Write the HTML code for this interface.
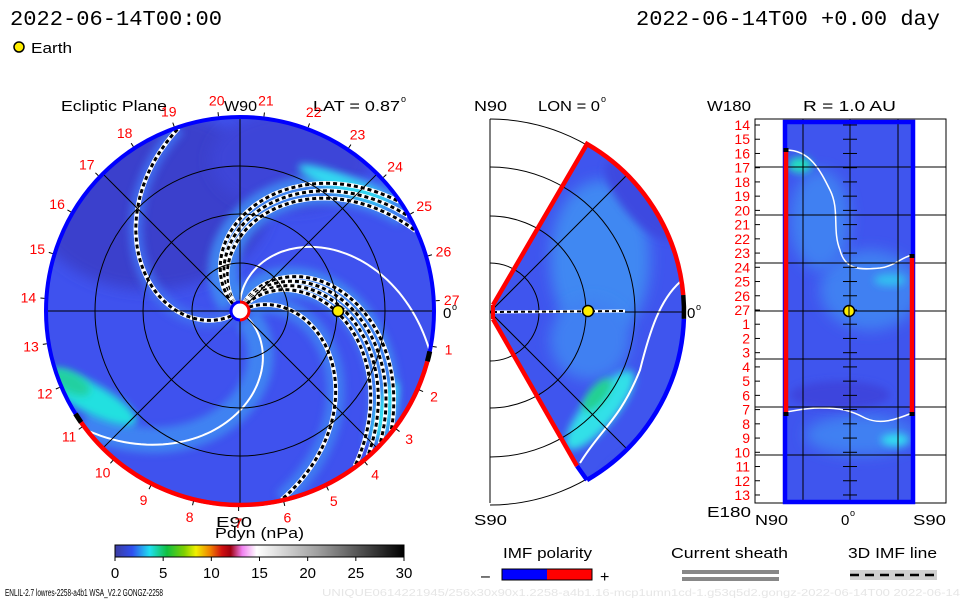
<!DOCTYPE html>
<html><head><meta charset="utf-8"><style>
html,body{margin:0;padding:0;background:#fff;}
svg{display:block;font-family:"Liberation Sans",sans-serif;}
</style></head><body>
<svg id="s" width="960" height="600" viewBox="0 0 960 600" xmlns="http://www.w3.org/2000/svg">
<defs>
<clipPath id="cMain"><circle cx="240" cy="311" r="194"/></clipPath>
<clipPath id="cWedge"><path d="M490,312 L587,144 A194,194 0 0 1 587,480 Z"/></clipPath>
<clipPath id="cRect"><rect x="785" y="122" width="128" height="380"/></clipPath>
<filter id="bl" x="-50%" y="-50%" width="200%" height="200%"><feGaussianBlur stdDeviation="7"/></filter>
<filter id="bl2" x="-50%" y="-50%" width="200%" height="200%"><feGaussianBlur stdDeviation="4"/></filter>
<linearGradient id="cbar" x1="0" x2="1" y1="0" y2="0">
<stop offset="0" stop-color="#3c3ca0"/><stop offset="0.06" stop-color="#3050f0"/><stop offset="0.12" stop-color="#20e0f0"/>
<stop offset="0.18" stop-color="#10c040"/><stop offset="0.24" stop-color="#80d000"/><stop offset="0.28" stop-color="#f0f000"/>
<stop offset="0.33" stop-color="#f08000"/><stop offset="0.37" stop-color="#d01010"/><stop offset="0.4" stop-color="#a00010"/>
<stop offset="0.44" stop-color="#f080f0"/><stop offset="0.49" stop-color="#ffffff"/><stop offset="0.7" stop-color="#a0a0a0"/>
<stop offset="1" stop-color="#000000"/></linearGradient>
</defs>

<g id="texts">
<text x="10" y="25" font-family="Liberation Mono,monospace" font-size="21" textLength="212" lengthAdjust="spacingAndGlyphs">2022-06-14T00:00</text>
<text x="636" y="25" font-family="Liberation Mono,monospace" font-size="21" textLength="304" lengthAdjust="spacingAndGlyphs">2022-06-14T00 +0.00 day</text>
<circle cx="19" cy="47" r="5" fill="#ffee00" stroke="#000" stroke-width="1.5"/>
<text x="31" y="53" font-size="15" textLength="41" lengthAdjust="spacingAndGlyphs">Earth</text>
<text x="61" y="111" font-size="15" textLength="106" lengthAdjust="spacingAndGlyphs">Ecliptic Plane</text>
<text x="224" y="111" font-size="15" textLength="33" lengthAdjust="spacingAndGlyphs">W90</text>
<text x="313" y="111" font-size="15" textLength="87" lengthAdjust="spacingAndGlyphs">LAT = 0.87</text>
<text x="401" y="102" font-size="9">o</text>
<text x="474" y="111" font-size="15" textLength="33" lengthAdjust="spacingAndGlyphs">N90</text>
<text x="538" y="111" font-size="15" textLength="62" lengthAdjust="spacingAndGlyphs">LON = 0</text>
<text x="601" y="102" font-size="9">o</text>
<text x="707" y="111" font-size="15" textLength="44" lengthAdjust="spacingAndGlyphs">W180</text>
<text x="803" y="111" font-size="15" textLength="93" lengthAdjust="spacingAndGlyphs">R = 1.0 AU</text>
<text x="443" y="318" font-size="15">0</text>
<text x="452" y="310" font-size="9">o</text>
<text x="687" y="318" font-size="15">0</text>
<text x="696" y="310" font-size="9">o</text>
<text x="474" y="525" font-size="15" textLength="33" lengthAdjust="spacingAndGlyphs">S90</text>
<text x="707" y="517" font-size="15" textLength="44" lengthAdjust="spacingAndGlyphs">E180</text>
<text x="755" y="525" font-size="15" textLength="33" lengthAdjust="spacingAndGlyphs">N90</text>
<text x="841" y="525" font-size="15">0</text>
<text x="850" y="516" font-size="9">o</text>
<text x="913" y="525" font-size="15" textLength="33" lengthAdjust="spacingAndGlyphs">S90</text>
<text x="216" y="527" font-size="15" textLength="36" lengthAdjust="spacingAndGlyphs">E90</text>
<text x="215" y="538" font-size="15" textLength="89" lengthAdjust="spacingAndGlyphs">Pdyn (nPa)</text>
</g>

<g id="main"></g>
<g id="mid"></g>
<g id="right"></g>

<g>
<rect x="115" y="545" width="289" height="12" fill="url(#cbar)" stroke="#000" stroke-width="1"/>
<g id="cbt"></g>
</g>

<g>
<text x="503" y="558" font-size="15" textLength="89" lengthAdjust="spacingAndGlyphs">IMF polarity</text>
<text x="481" y="581" font-size="16">–</text>
<rect x="502" y="569" width="45" height="11" fill="#0000ff"/>
<rect x="547" y="569" width="45" height="11" fill="#ff0000"/>
<rect x="502" y="569" width="90" height="11" fill="none" stroke="#000" stroke-width="1"/>
<text x="600" y="582" font-size="16">+</text>
</g>
<g>
<text x="671" y="558" font-size="15" textLength="117" lengthAdjust="spacingAndGlyphs">Current sheath</text>
<rect x="682" y="570" width="97" height="4" fill="#888"/>
<rect x="682" y="577" width="97" height="4" fill="#888"/>
</g>
<g>
<text x="848" y="558" font-size="15" textLength="89" lengthAdjust="spacingAndGlyphs">3D IMF line</text>
<rect x="850" y="570" width="87" height="10" fill="#d0d0d0"/>
<line x1="850" y1="575" x2="937" y2="575" stroke="#000" stroke-width="2.5" stroke-dasharray="9 6"/>
</g>
<text x="5" y="596" font-size="10" textLength="158" lengthAdjust="spacingAndGlyphs">ENLIL-2.7 lowres-2258-a4b1 WSA_V2.2 GONGZ-2258</text>
<text x="322" y="596" font-size="10" fill="#e6e6e6" textLength="638" lengthAdjust="spacingAndGlyphs">UNIQUE0614221945/256x30x90x1.2258-a4b1.16-mcp1umn1cd-1.g53q5d2.gongz-2022-06-14T00   2022-06-14</text>
</svg>
<script>
// ---- data ----
const dashedSpiralEnds = [108, 24, 29, 34, -39, -44, -49, -54, -78];
const whiteSpiralEnds = [218, -12];
const carringtonLabels = [1,2,3,4,5,6,7,8,9,10,11,12,13,14,15,16,17,18,19,20,21,22,23,24,25,26,27];
const colorbarTicks = [0,5,10,15,20,25,30];
const rightPanelLabels = [14,15,16,17,18,19,20,21,22,23,24,25,26,27,1,2,3,4,5,6,7,8,9,10,11,12,13];

const NS='http://www.w3.org/2000/svg';
function mk(tag, attrs, parent){const e=document.createElementNS(NS,tag);for(const k in attrs)e.setAttribute(k,attrs[k]);parent.appendChild(e);return e;}
const CX=240, CY=311, R=194, RATE=0.55;
function pol(r,deg){const a=deg*Math.PI/180;return [CX+r*Math.cos(a), CY-r*Math.sin(a)];}
function spiralPath(endDeg){let d='';for(let r=10;r<=R;r+=3){const p=pol(r,endDeg+RATE*(R-r));d+=(d?'L':'M')+p[0].toFixed(1)+','+p[1].toFixed(1);}return d;}
function arc(r,a1,a2){const p=pol(r,a1),q=pol(r,a2);const large=Math.abs(a2-a1)>180?1:0;const sweep=a2<a1?1:0;return 'M'+p[0]+','+p[1]+' A'+r+','+r+' 0 '+large+' '+sweep+' '+q[0]+','+q[1];}

// ---- main panel ----
const main=document.getElementById('main');
const bgG=mk('g',{'clip-path':'url(#cMain)'},main);
mk('circle',{cx:CX,cy:CY,r:R,fill:'#3f52ee'},bgG);
mk('ellipse',{cx:150,cy:200,rx:120,ry:90,fill:'#3a3fcc',filter:'url(#bl)'},bgG);
mk('ellipse',{cx:290,cy:160,rx:80,ry:50,fill:'#3c45d8',filter:'url(#bl)'},bgG);
[[30,30,'#3f8af2'],[-45,30,'#3f8af2'],[215,26,'#3f88f2'],[-78,18,'#3f80f2'],[108,14,'#3f70f0']].forEach(b=>{
 mk('path',{d:spiralPath(b[0]),fill:'none',stroke:b[2],'stroke-width':b[1],filter:'url(#bl2)',opacity:0.9},bgG);
});
mk('ellipse',{cx:90,cy:398,rx:52,ry:15,transform:'rotate(28 90 398)',fill:'#20e0e0',filter:'url(#bl2)'},bgG);
mk('ellipse',{cx:70,cy:382,rx:22,ry:10,transform:'rotate(28 70 382)',fill:'#20d0a0',filter:'url(#bl2)'},bgG);
mk('ellipse',{cx:345,cy:185,rx:50,ry:9,transform:'rotate(22 345 185)',fill:'#30d8f0',filter:'url(#bl2)'},bgG);
mk('ellipse',{cx:385,cy:410,rx:8,ry:30,transform:'rotate(20 385 410)',fill:'#30e0f0',filter:'url(#bl2)'},bgG);
const gridG=mk('g',{stroke:'#000','stroke-width':1,fill:'none'},main);

[48,97,145].forEach(r=>mk('circle',{cx:CX,cy:CY,r:r},gridG));
[0,45,90,135].forEach(a=>{const p=pol(R,a),q=pol(R,a+180);mk('line',{x1:p[0],y1:p[1],x2:q[0],y2:q[1]},gridG);});
whiteSpiralEnds.forEach(e=>{
 const p=mk('path',{d:spiralPath(e),fill:'none',stroke:'#fff','stroke-width':2},bgG);
 
 
});
dashedSpiralEnds.forEach(e=>{
 mk('path',{d:spiralPath(e),fill:'none',stroke:'#fff','stroke-width':4.5},bgG);
 const p=mk('path',{d:spiralPath(e),fill:'none',stroke:'#000','stroke-width':3,'stroke-dasharray':'4 3'},bgG);
 
 
});
mk('circle',{cx:CX,cy:CY,r:R,fill:'none',stroke:'#0000ff','stroke-width':4},main);
const rimRed=mk('path',{d:arc(R,-145,-15),fill:'none',stroke:'#ff0000','stroke-width':4.5},main);

mk('path',{d:arc(R,-15,-12),fill:'none',stroke:'#000','stroke-width':5},main);
mk('path',{d:arc(R,-148,-145),fill:'none',stroke:'#000','stroke-width':5},main);
mk('circle',{cx:CX,cy:CY,r:9,fill:'#fff'},main);
mk('path',{d:arc(9,90,-90),fill:'none',stroke:'#ff0000','stroke-width':3},main);
mk('path',{d:arc(9,270,90),fill:'none',stroke:'#0000ff','stroke-width':3},main);
const earth=mk('circle',{cx:338,cy:311,r:5.5,fill:'#ffee00',stroke:'#000','stroke-width':1.5},main);


carringtonLabels.forEach(k=>{
 const a=3+(27-k)*13.33;
 const p=pol(212,a);
 const t=mk('text',{x:p[0],y:p[1]+5,'text-anchor':'middle','font-size':14,fill:'#ff0000'},main);
 t.textContent=k;
 
 
 const tk1=pol(R+2,a),tk2=pol(R+6,a);
 mk('line',{x1:tk1[0],y1:tk1[1],x2:tk2[0],y2:tk2[1],stroke:'#000','stroke-width':1},main);
});

// ---- middle panel ----
const mid=document.getElementById('mid');
const MX=490,MY=312;
function mpol(r,deg){const a=deg*Math.PI/180;return [MX+r*Math.cos(a),MY-r*Math.sin(a)];}
mk('line',{x1:490,y1:119,x2:490,y2:503,stroke:'#000'},mid);
[49,96,145,193].forEach(r=>{const p=mpol(r,90),q=mpol(r,-90);mk('path',{d:'M'+p[0]+','+p[1]+' A'+r+','+r+' 0 0 1 '+q[0]+','+q[1],fill:'none',stroke:'#000'},mid);});
const wG=mk('g',{'clip-path':'url(#cWedge)'},mid);
mk('rect',{x:490,y:140,width:200,height:345,fill:'#3f55ee'},wG);
mk('ellipse',{cx:600,cy:260,rx:50,ry:80,fill:'#3f88f2',filter:'url(#bl)'},wG);
mk('ellipse',{cx:590,cy:340,rx:40,ry:40,fill:'#3f80f2',filter:'url(#bl)'},wG);
mk('ellipse',{cx:600,cy:410,rx:16,ry:50,transform:'rotate(40 600 410)',fill:'#30e0e8',filter:'url(#bl2)'},wG);
mk('ellipse',{cx:597,cy:395,rx:8,ry:20,transform:'rotate(40 597 395)',fill:'#20d090',filter:'url(#bl2)'},wG);
mk('ellipse',{cx:640,cy:460,rx:45,ry:14,transform:'rotate(-30 640 460)',fill:'#3e48e8',filter:'url(#bl2)'},wG);
mk('ellipse',{cx:640,cy:200,rx:50,ry:18,transform:'rotate(50 640 200)',fill:'#3e48e0',filter:'url(#bl2)'},wG);
mk('path',{d:'M580,463 C600,430 620,420 640,370 C650,330 660,300 680,282',fill:'none',stroke:'#fff','stroke-width':2},wG);
[0,45,-45].forEach(a=>{const q=mpol(193,a);mk('line',{x1:MX,y1:MY,x2:q[0],y2:q[1],stroke:'#000'},wG);});
[49,96,145].forEach(r=>{const p=mpol(r,60),q=mpol(r,-60);mk('path',{d:'M'+p[0]+','+p[1]+' A'+r+','+r+' 0 0 1 '+q[0]+','+q[1],fill:'none',stroke:'#000'},wG);});
mk('line',{x1:493,y1:312,x2:625,y2:311,stroke:'#fff','stroke-width':3},mid);
mk('line',{x1:493,y1:312,x2:625,y2:311,stroke:'#000','stroke-width':2,'stroke-dasharray':'4 3'},mid);
const mr=mpol(194,60), mb=mpol(194,-60), m5=mpol(194,5), m0=mpol(194,-2);
mk('path',{d:'M493,305 L'+mr[0]+','+mr[1]+' A194,194 0 0 1 '+m5[0]+','+m5[1],fill:'none',stroke:'#ff0000','stroke-width':4.5},mid);
mk('path',{d:'M'+m0[0]+','+m0[1]+' A194,194 0 0 1 '+mb[0]+','+mb[1],fill:'none',stroke:'#0000ff','stroke-width':4.5},mid);
mk('path',{d:'M'+m5[0]+','+m5[1]+' A194,194 0 0 1 '+m0[0]+','+m0[1],fill:'none',stroke:'#000','stroke-width':4.5},mid);
mk('path',{d:'M493,319 L577,466',fill:'none',stroke:'#ff0000','stroke-width':4.5},mid);
mk('path',{d:'M577,466 L'+mb[0]+','+mb[1],fill:'none',stroke:'#0000ff','stroke-width':4.5},mid);
mk('path',{d:'M493,305 L493,319',fill:'none',stroke:'#ff0000','stroke-width':4},mid);
const e2=mk('circle',{cx:588,cy:311,r:5.5,fill:'#ffee00',stroke:'#000','stroke-width':1.5},mid);



// ---- right panel ----
const rt=document.getElementById('right');
mk('rect',{x:755,y:119,width:191,height:384,fill:'none',stroke:'#000'},rt);
const rG=mk('g',{'clip-path':'url(#cRect)'},rt);
mk('rect',{x:785,y:122,width:128,height:380,fill:'#3f55ee'},rG);
mk('ellipse',{cx:870,cy:290,rx:50,ry:40,fill:'#3f80f2',filter:'url(#bl)'},rG);
mk('ellipse',{cx:820,cy:220,rx:30,ry:50,fill:'#3f80f2',filter:'url(#bl)'},rG);
mk('ellipse',{cx:860,cy:435,rx:55,ry:20,fill:'#3f80f2',filter:'url(#bl)'},rG);
mk('ellipse',{cx:800,cy:165,rx:12,ry:8,fill:'#20e0c0',filter:'url(#bl2)'},rG);
mk('ellipse',{cx:895,cy:440,rx:14,ry:6,fill:'#30e0f0',filter:'url(#bl2)'},rG);
mk('ellipse',{cx:890,cy:280,rx:16,ry:6,fill:'#30c0f0',filter:'url(#bl2)'},rG);
mk('ellipse',{cx:840,cy:395,rx:50,ry:14,fill:'#3c45dd',filter:'url(#bl2)'},rG);
mk('path',{d:'M786,150 C810,150 820,170 830,190 C840,210 832,230 840,250 C845,270 860,270 880,268 C895,266 900,258 912,255',fill:'none',stroke:'#fff','stroke-width':1.5},rG);
mk('path',{d:'M786,412 C800,410 805,408 820,408 C840,408 850,410 865,418 C880,425 895,420 912,413',fill:'none',stroke:'#fff','stroke-width':1.5},rG);
[803,850,898].forEach(x=>mk('line',{x1:x,y1:119,x2:x,y2:503,stroke:'#000'},rt));
[167,215,263,311,359,407,455].forEach(y=>mk('line',{x1:755,y1:y,x2:946,y2:y,stroke:'#000'},rt));
rightPanelLabels.forEach((k,i)=>{
 const y=125+i*14.23;
 const t=mk('text',{x:750,y:y+5,'text-anchor':'end','font-size':14,fill:'#ff0000'},rt);
 t.textContent=k;
 
 
 mk('line',{x1:755,y1:y,x2:760,y2:y,stroke:'#000'},rt);
 mk('line',{x1:843,y1:y,x2:857,y2:y,stroke:'#000'},rt);
});
mk('rect',{x:785,y:122,width:128,height:380,fill:'none',stroke:'#0000ff','stroke-width':4.5},rt);
mk('line',{x1:786,y1:152,x2:786,y2:414,stroke:'#ff0000','stroke-width':4.5},rt);
mk('line',{x1:912,y1:258,x2:912,y2:414,stroke:'#ff0000','stroke-width':4.5},rt);
[[786,150],[786,414],[912,256],[912,414]].forEach(p=>mk('rect',{x:p[0]-2.5,y:p[1]-2,width:5,height:4,fill:'#000'},rt));
const e3=mk('circle',{cx:849,cy:311,r:5.5,fill:'#ffee00',stroke:'#000','stroke-width':1.5},rt);


mk('line',{x1:849,y1:305,x2:849,y2:317,stroke:'#000'},rt);

const cbt=document.getElementById('cbt');
colorbarTicks.forEach(v=>{
 const x=115+v/30*289;
 mk('line',{x1:x,y1:557,x2:x,y2:561,stroke:'#000'},cbt);
 const t=mk('text',{x:x,y:578,'text-anchor':'middle','font-size':15},cbt);
 t.textContent=v;
 
 
});
</script>
</body></html>
